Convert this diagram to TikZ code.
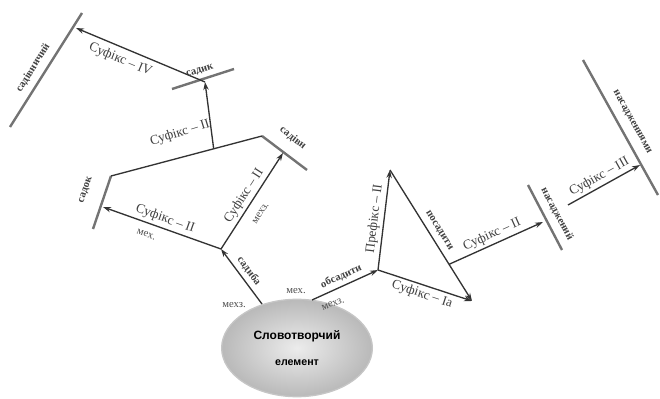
\documentclass[tikz,border=0pt]{standalone}
\usepackage{fontspec}
\setmainfont{Liberation Serif}
\newfontfamily\elfont{Liberation Sans}
\usetikzlibrary{arrows.meta, calc, positioning, shapes.geometric}

\begin{document}
\begin{tikzpicture}[x=0.75pt, y=-0.75pt, line width=1pt,
    link/.style={draw=black!80, -{Stealth[length=6pt, width=4pt]}},
    bar/.style={draw=black!55, line width=1.8pt},
    lab/.style={font=\normalsize, text=black!75, inner sep=2pt},
    word/.style={font=\footnotesize\bfseries, text=black!75, inner sep=1pt},
    note/.style={font=\footnotesize, text=black!70, inner sep=1pt}]
  \useasboundingbox (0,0) rectangle (660,399);

  % Word-forming element
  \node[ellipse, minimum width=113pt, minimum height=73pt, inner color=gray!15,
    outer color=gray!55, draw=gray!45, align=center, font=\elfont\small\bfseries]
    (elem) at (297,348) {Словотворчий\\[9pt]{\footnotesize елемент}};

  % Left branch
  \coordinate (a) at (262,304);
  \coordinate (j1) at (221,249);
  \coordinate (l1) at (103,207);
  \coordinate (r1) at (283,153);
  \draw[link] (a) -- (j1) node[word, sloped, midway, above=2pt] {садиба};
  \node[note] (n1) at (234,305) {мехз.};
  \node[note] (n2) at (296,291) {мех.};
  \node[note, rotate=20] (n3) at (333,304) {мехз.};

  \draw[link] (j1) -- (l1) node[lab, sloped, midway, above] {Суфікс – ІІ}
    node[note, sloped, pos=0.6, below=5pt] {мех.};
  \draw[link] (j1) -- (r1) node[lab, sloped, midway, above] {Суфікс – ІІ}
    node[note, sloped, pos=0.45, below=7pt] {мехз.};

  % Left bars and top line
  \coordinate (l1a) at (111,176);
  \coordinate (l1b) at (93,229);
  \coordinate (r1a) at (262,136);
  \coordinate (r1b) at (307,170);
  \draw[bar] (l1a) -- (l1b);
  \draw[bar] (r1a) -- (r1b);
  \draw[draw=black!80] (l1a) -- (r1a);
  \node[word, rotate=71] (w1) at (86,190) {садок};
  \node[word, rotate=-38] (w2) at (293,138) {садівн};

  % Upper branch
  \coordinate (m1) at ($(l1a)!0.68!(r1a)$);
  \coordinate (u) at (205,82);
  \coordinate (ua) at (172,89);
  \coordinate (ub) at (234,69);
  \draw[link] (m1) -- (u);
  \node[lab, rotate=17] (s3) at (180,133) {Суфікс – ІІ};
  \draw[bar] (ua) -- (ub);
  \node[word, rotate=17] (w3) at (200,71) {садик};

  \coordinate (t) at (76,28);
  \coordinate (ta) at (82,13);
  \coordinate (tb) at (10,127);
  \draw[link] (u) -- (t) node[lab, sloped, pos=0.62, below=2pt] {Суфікс – ІV};
  \draw[bar] (ta) -- (tb);
  \node[word, rotate=58] (w4) at (33,68) {садівничий};

  % Right branch
  \coordinate (b) at (312,300);
  \coordinate (k) at (378,270);
  \coordinate (p) at (390,170);
  \coordinate (q) at (472,301);
  \draw[link] (b) -- (k) node[word, sloped, midway, above=2pt] {обсадити};
  \draw[link] (k) -- (p) node[lab, sloped, midway, above] {Префікс – ІІ};
  \draw[link] (p) -- (q) node[word, sloped, midway, above=3pt] {посадити};
  \draw[link] (k) -- (q) node[lab, sloped, midway, below] {Суфікс – Іа};

  \coordinate (m) at ($(p)!0.72!(q)$);
  \coordinate (r2) at (543,222);
  \coordinate (r2a) at (528,185);
  \coordinate (r2b) at (562,250);
  \draw[link] (m) -- (r2) node[lab, sloped, midway, above] {Суфікс – ІІ};
  \draw[bar] (r2a) -- (r2b);
  \node[word, rotate=-62] (w5) at (557,214) {насаджений};

  \coordinate (s) at (568,205);
  \coordinate (r3) at (640,165);
  \coordinate (r3a) at (583,60);
  \coordinate (r3b) at (658,195);
  \draw[link] (s) -- (r3) node[lab, sloped, midway, above] {Суфікс – ІІІ};
  \draw[bar] (r3a) -- (r3b);
  \node[word, rotate=-61] (w6) at (632,122) {насадженнями};
\end{tikzpicture}
\end{document}
